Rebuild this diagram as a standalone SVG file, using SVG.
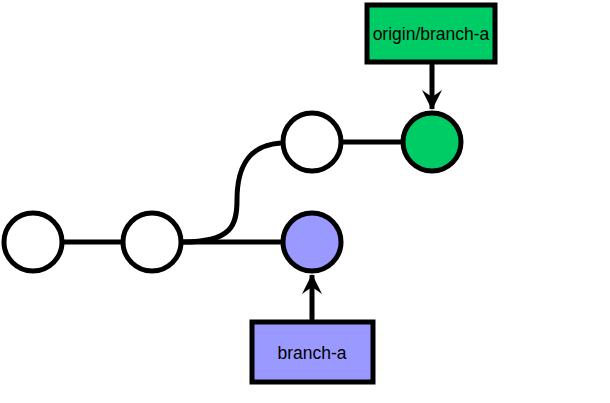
<svg xmlns="http://www.w3.org/2000/svg" width="610" height="403" viewBox="0 0 610 403">
<style>
.c{stroke:#000;stroke-width:5;fill:#fff}
.l{stroke:#000;stroke-width:5;fill:none}
.t{font-family:"Liberation Sans",Arial,sans-serif;font-size:17.5px;fill:#000;text-anchor:middle}
</style>
<defs>
<marker id="ah" viewBox="0 0 20 20" refX="19" refY="10" markerWidth="20" markerHeight="20" markerUnits="userSpaceOnUse" orient="auto">
<path d="M0,0 L20,10 L0,20 L7,10 Z" fill="#000"/>
</marker>
</defs>
<g id="connectors">
<line class="l" x1="63" y1="242" x2="121" y2="242"/>
<line class="l" x1="183" y1="242" x2="281" y2="242"/>
<path class="l" d="M183,242 C232,242 237,225 237,200 C237,165 250,145 281,143"/>
<line class="l" x1="343" y1="142" x2="401" y2="142"/>
<line class="l" x1="432" y1="63" x2="432" y2="109" marker-end="url(#ah)"/>
<line class="l" x1="312" y1="321" x2="312" y2="275" marker-end="url(#ah)"/>
</g>
<g id="c1"><circle class="c" cx="33" cy="242" r="29"/></g>
<g id="c2"><circle class="c" cx="152" cy="242" r="29"/></g>
<g id="c3"><circle class="c" cx="312" cy="142" r="29"/></g>
<g id="c4"><circle class="c" cx="432" cy="142" r="29" style="fill:#00CC66"/></g>
<g id="c5"><circle class="c" cx="312" cy="242" r="29" style="fill:#9999FF"/></g>
<g id="origin">
<rect x="367" y="5" width="128" height="57" fill="#00CC66" stroke="#000" stroke-width="5"/>
<text class="t" x="431" y="40">origin/branch-a</text>
</g>
<g id="branch">
<rect x="252" y="322" width="121" height="60" fill="#9999FF" stroke="#000" stroke-width="5"/>
<text class="t" x="312" y="359">branch-a</text>
</g>
</svg>
